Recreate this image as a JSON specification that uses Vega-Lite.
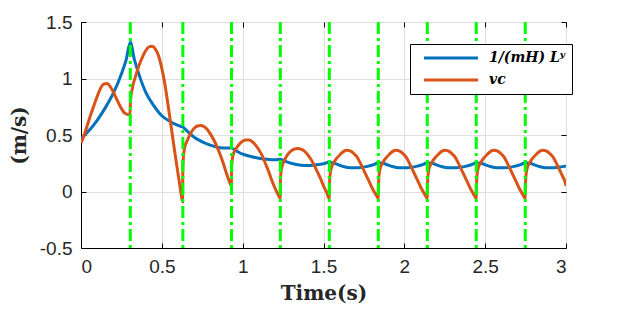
{
  "$schema": "https://vega.github.io/schema/vega-lite/v6.json",
  "width": 485,
  "height": 226,
  "autosize": {"type": "none"},
  "padding": {"left": 81, "top": 22, "right": 59, "bottom": 64},
  "config": {
    "view": {"stroke": "black", "strokeWidth": 1},
    "axis": {
      "labelFont": "Liberation Sans", "labelFontSize": 19, "labelColor": "#262626",
      "titleFont": "DejaVu Serif", "titleFontWeight": "bold", "titleFontSize": 20, "titleColor": "#262626",
      "domainColor": "black", "tickColor": "black", "gridColor": "#dfdfdf", "gridWidth": 1
    }
  },
  "resolve": {"scale": {"x": "independent", "y": "independent"}, "axis": {"x": "independent", "y": "independent"}},
  "datasets": {
    "curves": [
      {"t": 0.00, "v": 0.47, "s": "Ly"},
      {"t": 0.05, "v": 0.54, "s": "Ly"},
      {"t": 0.10, "v": 0.63, "s": "Ly"},
      {"t": 0.15, "v": 0.74, "s": "Ly"},
      {"t": 0.20, "v": 0.87, "s": "Ly"},
      {"t": 0.25, "v": 1.04, "s": "Ly"},
      {"t": 0.28, "v": 1.17, "s": "Ly"},
      {"t": 0.305, "v": 1.32, "s": "Ly"},
      {"t": 0.33, "v": 1.17, "s": "Ly"},
      {"t": 0.36, "v": 1.03, "s": "Ly"},
      {"t": 0.40, "v": 0.88, "s": "Ly"},
      {"t": 0.45, "v": 0.76, "s": "Ly"},
      {"t": 0.50, "v": 0.67, "s": "Ly"},
      {"t": 0.55, "v": 0.62, "s": "Ly"},
      {"t": 0.60, "v": 0.585, "s": "Ly"},
      {"t": 0.63, "v": 0.57, "s": "Ly"},
      {"t": 0.66, "v": 0.53, "s": "Ly"},
      {"t": 0.70, "v": 0.48, "s": "Ly"},
      {"t": 0.75, "v": 0.44, "s": "Ly"},
      {"t": 0.80, "v": 0.41, "s": "Ly"},
      {"t": 0.85, "v": 0.39, "s": "Ly"},
      {"t": 0.90, "v": 0.385, "s": "Ly"},
      {"t": 0.93, "v": 0.385, "s": "Ly"},
      {"t": 0.96, "v": 0.36, "s": "Ly"},
      {"t": 1.00, "v": 0.33, "s": "Ly"},
      {"t": 1.05, "v": 0.31, "s": "Ly"},
      {"t": 1.10, "v": 0.295, "s": "Ly"},
      {"t": 1.15, "v": 0.285, "s": "Ly"},
      {"t": 1.20, "v": 0.28, "s": "Ly"},
      {"t": 1.233, "v": 0.285, "s": "Ly"},
      {"t": 1.26, "v": 0.27, "s": "Ly"},
      {"t": 1.30, "v": 0.25, "s": "Ly"},
      {"t": 1.35, "v": 0.235, "s": "Ly"},
      {"t": 1.40, "v": 0.23, "s": "Ly"},
      {"t": 1.45, "v": 0.235, "s": "Ly"},
      {"t": 1.50, "v": 0.245, "s": "Ly"},
      {"t": 1.535, "v": 0.26, "s": "Ly"},
      {"t": 1.565, "v": 0.25, "s": "Ly"},
      {"t": 1.615, "v": 0.225, "s": "Ly"},
      {"t": 1.665, "v": 0.21, "s": "Ly"},
      {"t": 1.715, "v": 0.21, "s": "Ly"},
      {"t": 1.765, "v": 0.22, "s": "Ly"},
      {"t": 1.815, "v": 0.24, "s": "Ly"},
      {"t": 1.838, "v": 0.255, "s": "Ly"},
      {"t": 1.868, "v": 0.25, "s": "Ly"},
      {"t": 1.918, "v": 0.225, "s": "Ly"},
      {"t": 1.968, "v": 0.21, "s": "Ly"},
      {"t": 2.018, "v": 0.21, "s": "Ly"},
      {"t": 2.068, "v": 0.22, "s": "Ly"},
      {"t": 2.118, "v": 0.24, "s": "Ly"},
      {"t": 2.141, "v": 0.255, "s": "Ly"},
      {"t": 2.171, "v": 0.25, "s": "Ly"},
      {"t": 2.221, "v": 0.225, "s": "Ly"},
      {"t": 2.271, "v": 0.21, "s": "Ly"},
      {"t": 2.321, "v": 0.21, "s": "Ly"},
      {"t": 2.371, "v": 0.22, "s": "Ly"},
      {"t": 2.421, "v": 0.24, "s": "Ly"},
      {"t": 2.444, "v": 0.255, "s": "Ly"},
      {"t": 2.474, "v": 0.25, "s": "Ly"},
      {"t": 2.524, "v": 0.225, "s": "Ly"},
      {"t": 2.574, "v": 0.21, "s": "Ly"},
      {"t": 2.624, "v": 0.21, "s": "Ly"},
      {"t": 2.674, "v": 0.22, "s": "Ly"},
      {"t": 2.724, "v": 0.24, "s": "Ly"},
      {"t": 2.747, "v": 0.255, "s": "Ly"},
      {"t": 2.777, "v": 0.25, "s": "Ly"},
      {"t": 2.827, "v": 0.225, "s": "Ly"},
      {"t": 2.877, "v": 0.21, "s": "Ly"},
      {"t": 2.927, "v": 0.21, "s": "Ly"},
      {"t": 2.977, "v": 0.22, "s": "Ly"},
      {"t": 3.0, "v": 0.225, "s": "Ly"},

      {"t": 0.00, "v": 0.43, "s": "vc"},
      {"t": 0.02, "v": 0.50, "s": "vc"},
      {"t": 0.04, "v": 0.59, "s": "vc"},
      {"t": 0.06, "v": 0.68, "s": "vc"},
      {"t": 0.08, "v": 0.76, "s": "vc"},
      {"t": 0.10, "v": 0.84, "s": "vc"},
      {"t": 0.12, "v": 0.91, "s": "vc"},
      {"t": 0.14, "v": 0.95, "s": "vc"},
      {"t": 0.16, "v": 0.955, "s": "vc"},
      {"t": 0.18, "v": 0.93, "s": "vc"},
      {"t": 0.20, "v": 0.88, "s": "vc"},
      {"t": 0.22, "v": 0.82, "s": "vc"},
      {"t": 0.24, "v": 0.76, "s": "vc"},
      {"t": 0.26, "v": 0.71, "s": "vc"},
      {"t": 0.28, "v": 0.685, "s": "vc"},
      {"t": 0.303, "v": 0.68, "s": "vc"},
      {"t": 0.306, "v": 0.80, "s": "vc"},
      {"t": 0.32, "v": 0.93, "s": "vc"},
      {"t": 0.34, "v": 1.03, "s": "vc"},
      {"t": 0.36, "v": 1.12, "s": "vc"},
      {"t": 0.38, "v": 1.19, "s": "vc"},
      {"t": 0.40, "v": 1.245, "s": "vc"},
      {"t": 0.42, "v": 1.28, "s": "vc"},
      {"t": 0.44, "v": 1.285, "s": "vc"},
      {"t": 0.46, "v": 1.26, "s": "vc"},
      {"t": 0.48, "v": 1.20, "s": "vc"},
      {"t": 0.50, "v": 1.09, "s": "vc"},
      {"t": 0.52, "v": 0.94, "s": "vc"},
      {"t": 0.54, "v": 0.75, "s": "vc"},
      {"t": 0.56, "v": 0.55, "s": "vc"},
      {"t": 0.58, "v": 0.35, "s": "vc"},
      {"t": 0.60, "v": 0.16, "s": "vc"},
      {"t": 0.615, "v": 0.02, "s": "vc"},
      {"t": 0.628, "v": -0.09, "s": "vc"},
      {"t": 0.630, "v": 0.22, "s": "vc"},
      {"t": 0.64, "v": 0.38, "s": "vc"},
      {"t": 0.66, "v": 0.46, "s": "vc"},
      {"t": 0.68, "v": 0.52, "s": "vc"},
      {"t": 0.70, "v": 0.56, "s": "vc"},
      {"t": 0.72, "v": 0.58, "s": "vc"},
      {"t": 0.74, "v": 0.585, "s": "vc"},
      {"t": 0.76, "v": 0.575, "s": "vc"},
      {"t": 0.78, "v": 0.55, "s": "vc"},
      {"t": 0.80, "v": 0.51, "s": "vc"},
      {"t": 0.82, "v": 0.46, "s": "vc"},
      {"t": 0.84, "v": 0.40, "s": "vc"},
      {"t": 0.86, "v": 0.33, "s": "vc"},
      {"t": 0.88, "v": 0.25, "s": "vc"},
      {"t": 0.90, "v": 0.16, "s": "vc"},
      {"t": 0.92, "v": 0.08, "s": "vc"},
      {"t": 0.930, "v": 0.05, "s": "vc"},
      {"t": 0.932, "v": 0.22, "s": "vc"},
      {"t": 0.94, "v": 0.32, "s": "vc"},
      {"t": 0.96, "v": 0.38, "s": "vc"},
      {"t": 0.98, "v": 0.42, "s": "vc"},
      {"t": 1.00, "v": 0.445, "s": "vc"},
      {"t": 1.02, "v": 0.455, "s": "vc"},
      {"t": 1.04, "v": 0.455, "s": "vc"},
      {"t": 1.06, "v": 0.44, "s": "vc"},
      {"t": 1.08, "v": 0.41, "s": "vc"},
      {"t": 1.10, "v": 0.37, "s": "vc"},
      {"t": 1.12, "v": 0.32, "s": "vc"},
      {"t": 1.14, "v": 0.25, "s": "vc"},
      {"t": 1.16, "v": 0.18, "s": "vc"},
      {"t": 1.18, "v": 0.10, "s": "vc"},
      {"t": 1.20, "v": 0.03, "s": "vc"},
      {"t": 1.22, "v": -0.03, "s": "vc"},
      {"t": 1.232, "v": -0.06, "s": "vc"},
      {"t": 1.234, "v": 0.12, "s": "vc"},
      {"t": 1.24, "v": 0.20, "s": "vc"},
      {"t": 1.26, "v": 0.28, "s": "vc"},
      {"t": 1.28, "v": 0.33, "s": "vc"},
      {"t": 1.30, "v": 0.36, "s": "vc"},
      {"t": 1.32, "v": 0.375, "s": "vc"},
      {"t": 1.34, "v": 0.38, "s": "vc"},
      {"t": 1.36, "v": 0.375, "s": "vc"},
      {"t": 1.38, "v": 0.36, "s": "vc"},
      {"t": 1.40, "v": 0.33, "s": "vc"},
      {"t": 1.42, "v": 0.29, "s": "vc"},
      {"t": 1.44, "v": 0.24, "s": "vc"},
      {"t": 1.46, "v": 0.18, "s": "vc"},
      {"t": 1.48, "v": 0.12, "s": "vc"},
      {"t": 1.50, "v": 0.05, "s": "vc"},
      {"t": 1.52, "v": -0.01, "s": "vc"},
      {"t": 1.535, "v": -0.06, "s": "vc"},
      {"t": 1.537, "v": 0.06, "s": "vc"},
      {"t": 1.545, "v": 0.19, "s": "vc"},
      {"t": 1.565, "v": 0.26, "s": "vc"},
      {"t": 1.585, "v": 0.30, "s": "vc"},
      {"t": 1.605, "v": 0.33, "s": "vc"},
      {"t": 1.625, "v": 0.355, "s": "vc"},
      {"t": 1.645, "v": 0.365, "s": "vc"},
      {"t": 1.665, "v": 0.36, "s": "vc"},
      {"t": 1.685, "v": 0.34, "s": "vc"},
      {"t": 1.705, "v": 0.31, "s": "vc"},
      {"t": 1.725, "v": 0.26, "s": "vc"},
      {"t": 1.745, "v": 0.20, "s": "vc"},
      {"t": 1.765, "v": 0.14, "s": "vc"},
      {"t": 1.785, "v": 0.08, "s": "vc"},
      {"t": 1.805, "v": 0.02, "s": "vc"},
      {"t": 1.825, "v": -0.03, "s": "vc"},
      {"t": 1.838, "v": -0.06, "s": "vc"},
      {"t": 1.840, "v": 0.06, "s": "vc"},
      {"t": 1.848, "v": 0.19, "s": "vc"},
      {"t": 1.868, "v": 0.26, "s": "vc"},
      {"t": 1.888, "v": 0.30, "s": "vc"},
      {"t": 1.908, "v": 0.33, "s": "vc"},
      {"t": 1.928, "v": 0.355, "s": "vc"},
      {"t": 1.948, "v": 0.365, "s": "vc"},
      {"t": 1.968, "v": 0.36, "s": "vc"},
      {"t": 1.988, "v": 0.34, "s": "vc"},
      {"t": 2.008, "v": 0.31, "s": "vc"},
      {"t": 2.028, "v": 0.26, "s": "vc"},
      {"t": 2.048, "v": 0.20, "s": "vc"},
      {"t": 2.068, "v": 0.14, "s": "vc"},
      {"t": 2.088, "v": 0.08, "s": "vc"},
      {"t": 2.108, "v": 0.02, "s": "vc"},
      {"t": 2.128, "v": -0.03, "s": "vc"},
      {"t": 2.141, "v": -0.06, "s": "vc"},
      {"t": 2.143, "v": 0.06, "s": "vc"},
      {"t": 2.151, "v": 0.19, "s": "vc"},
      {"t": 2.171, "v": 0.26, "s": "vc"},
      {"t": 2.191, "v": 0.30, "s": "vc"},
      {"t": 2.211, "v": 0.33, "s": "vc"},
      {"t": 2.231, "v": 0.355, "s": "vc"},
      {"t": 2.251, "v": 0.365, "s": "vc"},
      {"t": 2.271, "v": 0.36, "s": "vc"},
      {"t": 2.291, "v": 0.34, "s": "vc"},
      {"t": 2.311, "v": 0.31, "s": "vc"},
      {"t": 2.331, "v": 0.26, "s": "vc"},
      {"t": 2.351, "v": 0.20, "s": "vc"},
      {"t": 2.371, "v": 0.14, "s": "vc"},
      {"t": 2.391, "v": 0.08, "s": "vc"},
      {"t": 2.411, "v": 0.02, "s": "vc"},
      {"t": 2.431, "v": -0.03, "s": "vc"},
      {"t": 2.444, "v": -0.06, "s": "vc"},
      {"t": 2.446, "v": 0.06, "s": "vc"},
      {"t": 2.454, "v": 0.19, "s": "vc"},
      {"t": 2.474, "v": 0.26, "s": "vc"},
      {"t": 2.494, "v": 0.30, "s": "vc"},
      {"t": 2.514, "v": 0.33, "s": "vc"},
      {"t": 2.534, "v": 0.355, "s": "vc"},
      {"t": 2.554, "v": 0.365, "s": "vc"},
      {"t": 2.574, "v": 0.36, "s": "vc"},
      {"t": 2.594, "v": 0.34, "s": "vc"},
      {"t": 2.614, "v": 0.31, "s": "vc"},
      {"t": 2.634, "v": 0.26, "s": "vc"},
      {"t": 2.654, "v": 0.20, "s": "vc"},
      {"t": 2.674, "v": 0.14, "s": "vc"},
      {"t": 2.694, "v": 0.08, "s": "vc"},
      {"t": 2.714, "v": 0.02, "s": "vc"},
      {"t": 2.734, "v": -0.03, "s": "vc"},
      {"t": 2.747, "v": -0.06, "s": "vc"},
      {"t": 2.749, "v": 0.06, "s": "vc"},
      {"t": 2.757, "v": 0.19, "s": "vc"},
      {"t": 2.777, "v": 0.26, "s": "vc"},
      {"t": 2.797, "v": 0.30, "s": "vc"},
      {"t": 2.817, "v": 0.33, "s": "vc"},
      {"t": 2.837, "v": 0.355, "s": "vc"},
      {"t": 2.857, "v": 0.365, "s": "vc"},
      {"t": 2.877, "v": 0.36, "s": "vc"},
      {"t": 2.897, "v": 0.34, "s": "vc"},
      {"t": 2.917, "v": 0.31, "s": "vc"},
      {"t": 2.937, "v": 0.26, "s": "vc"},
      {"t": 2.957, "v": 0.20, "s": "vc"},
      {"t": 2.977, "v": 0.14, "s": "vc"},
      {"t": 2.997, "v": 0.07, "s": "vc"},
      {"t": 3.0, "v": 0.05, "s": "vc"}
    ],
    "events": [
      {"t": 0.305}, {"t": 0.630}, {"t": 0.931}, {"t": 1.233}, {"t": 1.536},
      {"t": 1.839}, {"t": 2.142}, {"t": 2.445}, {"t": 2.748}
    ]
  },
  "layer": [
    {
      "data": {"name": "curves"},
      "mark": {"type": "point", "opacity": 0},
      "encoding": {
        "x": {
          "field": "t", "type": "quantitative",
          "scale": {"domain": [0, 3], "nice": false},
          "axis": {"orient": "top", "title": null, "labels": false, "domain": false, "grid": false, "values": [0, 0.5, 1, 1.5, 2, 2.5, 3], "tickSize": -5}
        },
        "y": {
          "field": "v", "type": "quantitative",
          "scale": {"domain": [-0.5, 1.5], "nice": false},
          "axis": {"orient": "right", "title": null, "labels": false, "domain": false, "grid": false, "values": [-0.5, 0, 0.5, 1, 1.5], "tickSize": -5}
        }
      }
    },
    {
      "data": {"name": "curves"},
      "mark": {"type": "line", "strokeWidth": 3, "interpolate": "monotone", "clip": true},
      "encoding": {
        "x": {
          "field": "t", "type": "quantitative",
          "scale": {"domain": [0, 3], "nice": false},
          "axis": {"title": "Time(s)", "values": [0, 0.5, 1, 1.5, 2, 2.5, 3], "labelExpr": "datum.value < 0 ? '-' + format(-datum.value, '~g') : format(datum.value, '~g')", "tickSize": -5, "labelPadding": 14, "titlePadding": 7, "grid": true}
        },
        "y": {
          "field": "v", "type": "quantitative",
          "scale": {"domain": [-0.5, 1.5], "nice": false},
          "axis": {"title": "(m/s)", "values": [-0.5, 0, 0.5, 1, 1.5], "labelExpr": "datum.value < 0 ? '-' + format(-datum.value, '~g') : format(datum.value, '~g')", "tickSize": -5, "labelPadding": 14, "titlePadding": 10, "grid": true}
        },
        "color": {
          "field": "s", "type": "nominal",
          "scale": {"domain": ["Ly", "vc"], "range": ["#0072BD", "#D95319"]},
          "legend": {
            "orient": "none", "legendX": 329, "legendY": 22,
            "title": null,
            "labelExpr": "datum.value == 'Ly' ? '1/(mH) Lʸ' : 'vc'",
            "strokeColor": "black", "fillColor": "white", "padding": 7,
            "symbolType": "M0,0H18", "symbolSize": 36, "symbolStrokeWidth": 3,
            "labelOffset": 58, "rowPadding": 8,
            "labelFont": "DejaVu Serif", "labelFontStyle": "italic", "labelFontWeight": "bold", "labelFontSize": 14, "labelColor": "black"
          }
        }
      }
    },
    {
      "data": {"name": "events"},
      "mark": {"type": "rule", "color": "#00FF00", "strokeWidth": 3, "strokeDash": [12, 4, 3, 4]},
      "encoding": {
        "x": {"field": "t", "type": "quantitative", "scale": {"domain": [0, 3], "nice": false}, "axis": null}
      }
    }
  ]
}
